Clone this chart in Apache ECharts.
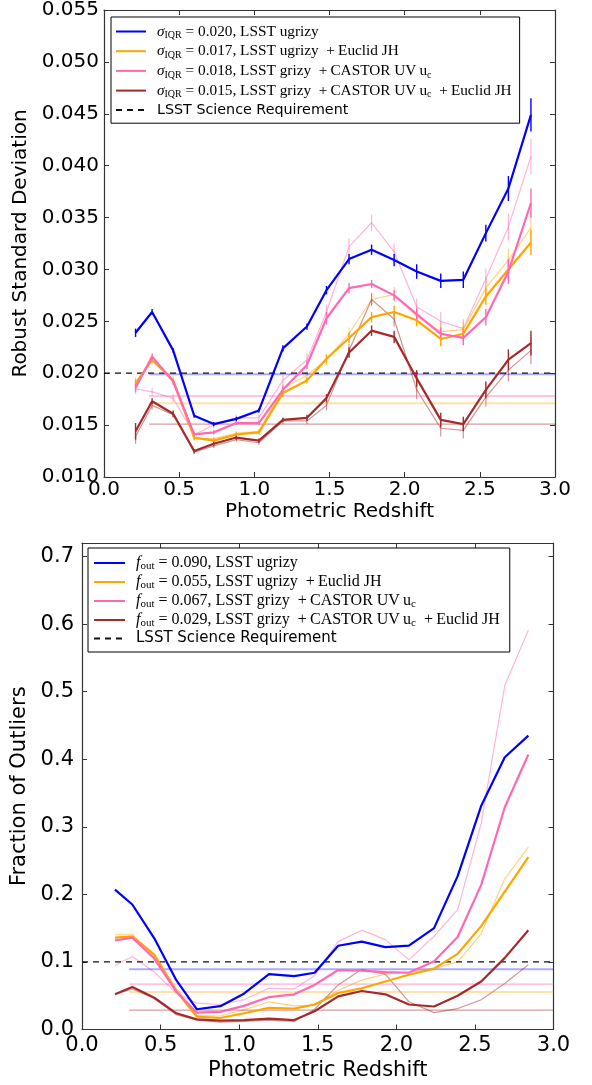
<!DOCTYPE html>
<html>
<head>
<meta charset="utf-8">
<script src="https://cdn.jsdelivr.net/npm/echarts@6/dist/echarts.min.js"></script>
<style>
html,body{margin:0;padding:0;background:#fff;}
#c{width:592px;height:1085px;}
</style>
</head>
<body>
<div id="c"></div>
<script>
// ---------------- DATA ----------------
const zBins = [0.21,0.32,0.46,0.60,0.73,0.88,1.03,1.19,1.35,1.48,1.63,1.78,1.93,2.08,2.24,2.39,2.54,2.69,2.84];

// Top panel: robust standard deviation
const sdBlue   = [0.0239,0.0259,0.0222,0.0159,0.0151,0.0156,0.0164,0.0224,0.0245,0.0280,0.0310,0.0319,0.0309,0.0298,0.0289,0.0290,0.0335,0.0378,0.0449];
const sdOrange = [0.0190,0.0213,0.0193,0.0138,0.0135,0.0141,0.0143,0.0181,0.0193,0.0214,0.0234,0.0254,0.0259,0.0251,0.0233,0.0238,0.0274,0.0300,0.0326];
const sdPink   = [0.0186,0.0216,0.0192,0.0141,0.0143,0.0152,0.0152,0.0184,0.0208,0.0253,0.0282,0.0286,0.0275,0.0257,0.0238,0.0234,0.0254,0.0298,0.0364];
const sdBrown  = [0.0144,0.0173,0.0161,0.0125,0.0132,0.0138,0.0135,0.0155,0.0157,0.0176,0.0220,0.0241,0.0235,0.0195,0.0155,0.0151,0.0184,0.0213,0.0229];
const sdPinkThin   = [0.0185,0.0182,0.0176,0.0141,0.0150,0.0157,0.0157,0.0193,0.0213,0.0259,0.0322,0.0345,0.0317,0.0264,0.0250,0.0243,0.0291,0.0341,0.0409];
const sdOrangeThin = [0.0192,0.0212,0.0194,0.0137,0.0137,0.0142,0.0144,0.0185,0.0198,0.0213,0.0238,0.0271,0.0276,0.0255,0.0240,0.0242,0.0282,0.0309,0.0340];
const sdBrownThin  = [0.0139,0.0169,0.0160,0.0124,0.0130,0.0136,0.0133,0.0154,0.0154,0.0169,0.0222,0.0271,0.0252,0.0184,0.0147,0.0145,0.0177,0.0203,0.0222];

const errBlue   = [0.0004,0.0003,0.0002,0.0002,0.0002,0.0002,0.0002,0.0003,0.0003,0.0004,0.0005,0.0005,0.0006,0.0007,0.0007,0.0008,0.0008,0.0012,0.0016];
const errOrange = [0.0004,0.0003,0.0002,0.0002,0.0002,0.0002,0.0002,0.0004,0.0003,0.0004,0.0005,0.0005,0.0006,0.0006,0.0007,0.0007,0.0008,0.0010,0.0012];
const errPink   = [0.0004,0.0003,0.0003,0.0002,0.0002,0.0002,0.0002,0.0004,0.0004,0.0006,0.0005,0.0004,0.0005,0.0006,0.0006,0.0007,0.0008,0.0012,0.0014];
const errBrown  = [0.0008,0.0003,0.0003,0.0002,0.0002,0.0002,0.0002,0.0002,0.0003,0.0004,0.0005,0.0005,0.0006,0.0008,0.0007,0.0007,0.0008,0.0010,0.0012];
const errPinkThin   = [0.0005,0.0004,0.0004,0.0003,0.0003,0.0003,0.0003,0.0005,0.0006,0.0007,0.0008,0.0008,0.0008,0.0008,0.0009,0.0009,0.0010,0.0013,0.0017];
const errOrangeThin = [0.0004,0.0003,0.0003,0.0002,0.0002,0.0002,0.0002,0.0004,0.0004,0.0005,0.0006,0.0006,0.0007,0.0007,0.0008,0.0008,0.0009,0.0011,0.0016];
const errBrownThin  = [0.0007,0.0004,0.0003,0.0002,0.0002,0.0002,0.0002,0.0003,0.0003,0.0005,0.0006,0.0006,0.0007,0.0009,0.0008,0.0008,0.0009,0.0011,0.0013];

const sigmaLevels = [0.0199, 0.0171, 0.0178, 0.0151];   // blue, orange, pink, brown
const sdRequirement = 0.020;

// Bottom panel: fraction of outliers
const foBlue   = [0.207,0.185,0.135,0.073,0.030,0.0345,0.053,0.082,0.079,0.084,0.124,0.130,0.122,0.124,0.150,0.227,0.331,0.403,0.435];
const foOrange = [0.136,0.138,0.111,0.057,0.019,0.017,0.024,0.032,0.031,0.037,0.054,0.061,0.071,0.081,0.090,0.112,0.153,0.204,0.255];
const foPink   = [0.132,0.136,0.105,0.056,0.025,0.026,0.035,0.048,0.052,0.066,0.088,0.087,0.085,0.084,0.101,0.137,0.214,0.329,0.407];
const foBrown  = [0.052,0.063,0.047,0.024,0.015,0.013,0.014,0.016,0.014,0.027,0.049,0.057,0.052,0.037,0.034,0.050,0.071,0.106,0.147];
const foPinkThin   = [0.095,0.108,0.085,0.054,0.039,0.037,0.044,0.061,0.060,0.080,0.130,0.147,0.133,0.103,0.138,0.177,0.305,0.509,0.591];
const foOrangeThin = [0.141,0.141,0.107,0.061,0.021,0.020,0.029,0.041,0.035,0.036,0.058,0.073,0.082,0.085,0.090,0.100,0.142,0.223,0.270];
const foBrownThin  = [0.052,0.060,0.046,0.022,0.014,0.011,0.012,0.014,0.012,0.030,0.066,0.089,0.082,0.041,0.025,0.031,0.044,0.068,0.096];

const foutLevels = [0.089, 0.0556, 0.067, 0.0286];     // blue, orange, pink, brown
const foRequirement = 0.10;

const levelStart = 0.3, xMin = 0, xMax = 3;

const topLabels = [
  '{it|σ}{sub|IQR}{rm| = 0.020, LSST ugrizy}',
  '{it|σ}{sub|IQR}{rm| = 0.017, LSST ugrizy  +\u2009Euclid JH}',
  '{it|σ}{sub|IQR}{rm| = 0.018, LSST grizy  +\u2009CASTOR UV\u2009u}{sub|c}',
  '{it|σ}{sub|IQR}{rm| = 0.015, LSST grizy  +\u2009CASTOR UV\u2009u}{sub|c}{rm|  +\u2009Euclid JH}',
  '{sans|LSST Science Requirement}'
];
const botLabels = [
  '{it|f}{sub|out}{rm| = 0.090, LSST ugrizy}',
  '{it|f}{sub|out}{rm| = 0.055, LSST ugrizy  +\u2009Euclid JH}',
  '{it|f}{sub|out}{rm| = 0.067, LSST grizy  +\u2009CASTOR UV\u2009u}{sub|c}',
  '{it|f}{sub|out}{rm| = 0.029, LSST grizy  +\u2009CASTOR UV\u2009u}{sub|c}{rm|  +\u2009Euclid JH}',
  '{sans|LSST Science Requirement}'
];

// ---------------- STYLE ----------------
const C = {
  blue: '#0000ff', orange: '#ffa500', pink: '#ff69b4', brown: '#a52a2a'
};
const CT = {
  blue: 'rgba(0,0,255,0.5)', orange: 'rgba(255,165,0,0.5)', pink: 'rgba(255,105,180,0.5)', brown: 'rgba(165,42,42,0.5)'
};
const CH = {
  blue: 'rgba(0,0,255,0.33)', orange: 'rgba(255,165,0,0.33)', pink: 'rgba(255,105,180,0.38)', brown: 'rgba(165,42,42,0.45)'
};
const colorKeys = ['blue','orange','pink','brown'];

function pairs(x, y) { return x.map((v, i) => [v, y[i]]); }

function lineS(name, xi, yi, data, color, width, z) {
  return {
    name: name, type: 'line', xAxisIndex: xi, yAxisIndex: yi,
    data: data, symbol: 'none', showSymbol: false, silent: true, z: z,
    lineStyle: { color: color, width: width }, itemStyle: { color: color },
    emphasis: { disabled: true }
  };
}

function errS(xi, yi, x, y, e, color, width, z) {
  return {
    type: 'custom', xAxisIndex: xi, yAxisIndex: yi, silent: true, z: z,
    data: x.map((v, i) => [v, y[i], e[i]]),
    encode: { x: 0, y: 1 },
    renderItem: function (params, api) {
      const xv = api.value(0), yv = api.value(1), ev = api.value(2);
      const p1 = api.coord([xv, yv - ev]);
      const p2 = api.coord([xv, yv + ev]);
      return { type: 'line', shape: { x1: p1[0], y1: p1[1], x2: p2[0], y2: p2[1] },
               style: { stroke: color, lineWidth: width } };
    }
  };
}

const series = [];
// ---- top panel ----
const sdThin = [null, sdOrangeThin, sdPinkThin, sdBrownThin];
const sdThinErr = [null, errOrangeThin, errPinkThin, errBrownThin];
const sdThick = [sdBlue, sdOrange, sdPink, sdBrown];
const sdThickErr = [errBlue, errOrange, errPink, errBrown];
[2, 1, 3].forEach(k => {
  const col = colorKeys[k];
  series.push(lineS('t_thin_' + k, 0, 0, pairs(zBins, sdThin[k]), CT[col], 1.2, 2));
  series.push(errS(0, 0, zBins, sdThin[k], sdThinErr[k], CT[col], 1.2, 2));
});
[0, 2, 1, 3].forEach(k => {
  const col = colorKeys[k];
  series.push(lineS('t_lvl_' + k, 0, 0, [[levelStart, sigmaLevels[k]], [xMax, sigmaLevels[k]]], CH[col], k === 3 ? 1.3 : 2, 3));
});
series.push({
  name: 't_req', type: 'line', xAxisIndex: 0, yAxisIndex: 0, symbol: 'none', silent: true, z: 4,
  data: [[xMin, sdRequirement], [xMax, sdRequirement]],
  lineStyle: { color: '#111', width: 1.3, type: [6, 5] }, itemStyle: { color: '#111' }
});
[0, 1, 2, 3].forEach(k => {
  const col = colorKeys[k];
  series.push(lineS('t_' + k, 0, 0, pairs(zBins, sdThick[k]), C[col], 2.2, 5));
  series.push(errS(0, 0, zBins, sdThick[k], sdThickErr[k], C[col], 1.4, 5));
});

// ---- bottom panel ----
const foThin = [null, foOrangeThin, foPinkThin, foBrownThin];
const foThick = [foBlue, foOrange, foPink, foBrown];
[2, 1, 3].forEach(k => {
  const col = colorKeys[k];
  series.push(lineS('b_thin_' + k, 2, 2, pairs(zBins, foThin[k]), CT[col], 1.2, 2));
});
[0, 2, 1, 3].forEach(k => {
  const col = colorKeys[k];
  series.push(lineS('b_lvl_' + k, 2, 2, [[levelStart, foutLevels[k]], [xMax, foutLevels[k]]], CH[col], k === 3 ? 1.3 : 2, 3));
});
series.push({
  name: 'b_req', type: 'line', xAxisIndex: 2, yAxisIndex: 2, symbol: 'none', silent: true, z: 4,
  data: [[xMin, foRequirement], [xMax, foRequirement]],
  lineStyle: { color: '#111', width: 1.3, type: [6, 5] }, itemStyle: { color: '#111' }
});
[0, 1, 2, 3].forEach(k => {
  const col = colorKeys[k];
  series.push(lineS('b_' + k, 2, 2, pairs(zBins, foThick[k]), C[col], 2.2, 5));
});

// ---------------- AXES ----------------
const axisCol = '#333';
const FONT = 'DejaVu Sans';
function xAx(grid, pos, showLabel, margin, name, nameGap, fs) {
  return {
    type: 'value', gridIndex: grid, position: pos, min: xMin, max: xMax, interval: 0.5,
    axisLine: { show: true, onZero: false, lineStyle: { color: axisCol, width: 1.2 } },
    axisTick: { show: true, inside: true, length: 5, lineStyle: { color: axisCol } },
    splitLine: { show: false },
    axisLabel: { show: showLabel, margin: margin, color: '#000', fontFamily: FONT, fontSize: fs,
                 formatter: v => v.toFixed(1) },
    name: showLabel ? name : '', nameLocation: 'middle', nameGap: nameGap,
    nameTextStyle: { color: '#000', fontFamily: FONT, fontSize: fs }
  };
}
function yAx(grid, pos, showLabel, min, max, interval, fmt, margin, name, nameGap, fs) {
  return {
    type: 'value', gridIndex: grid, position: pos, min: min, max: max, interval: interval,
    axisLine: { show: true, onZero: false, lineStyle: { color: axisCol, width: 1.2 } },
    axisTick: { show: true, inside: true, length: 5, lineStyle: { color: axisCol } },
    splitLine: { show: false },
    axisLabel: { show: showLabel, margin: margin, color: '#000', fontFamily: FONT, fontSize: fs, formatter: fmt },
    name: showLabel ? name : '', nameLocation: 'middle', nameGap: nameGap, nameRotate: 90,
    nameTextStyle: { color: '#000', fontFamily: FONT, fontSize: fs }
  };
}
const fmtTop = v => v.toFixed(3);
const fmtBot = v => (Math.abs(v * 10 - Math.round(v * 10)) < 1e-6 ? v.toFixed(1) : '');

// ---------------- LEGENDS ----------------
function richFor(fs, lh) {
  return {
    it:   { fontFamily: 'Liberation Serif', fontStyle: 'italic', fontSize: fs, color: '#000', lineHeight: lh, verticalAlign: 'middle' },
    rm:   { fontFamily: 'Liberation Serif', fontSize: fs, color: '#000', lineHeight: lh, verticalAlign: 'middle' },
    sub:  { fontFamily: 'Liberation Serif', fontSize: Math.round(fs * 0.68), color: '#000', lineHeight: lh, verticalAlign: 'bottom' },
    sans: { fontFamily: FONT, fontSize: fs - 1, color: '#000', lineHeight: lh, verticalAlign: 'middle' }
  };
}
const topNames = ['t_0', 't_1', 't_2', 't_3', 't_req'];
const botNames = ['b_0', 'b_1', 'b_2', 'b_3', 'b_req'];

const option = {
  animation: false,
  backgroundColor: '#fff',
  grid: [
    { left: 104, top: 10, width: 451, height: 467, containLabel: false },
    { left: 82, top: 543, width: 471.5, height: 486.5, containLabel: false }
  ],
  xAxis: [
    xAx(0, 'bottom', true, 3, 'Photometric Redshift', 25, 20),
    xAx(0, 'top', false, 3, '', 0, 20),
    xAx(1, 'bottom', true, 6, 'Photometric Redshift', 31, 21),
    xAx(1, 'top', false, 6, '', 0, 21)
  ],
  yAxis: [
    yAx(0, 'left', true, 0.010, 0.055, 0.005, fmtTop, 5, 'Robust Standard Deviation', 67, 20),
    yAx(0, 'right', false, 0.010, 0.055, 0.005, fmtTop, 5, '', 0, 20),
    yAx(1, 'left', true, 0, 0.72, 0.1, fmtBot, 8, 'Fraction of Outliers', 45, 21),
    yAx(1, 'right', false, 0, 0.72, 0.1, fmtBot, 8, '', 0, 21)
  ],
  legend: [
    {
      data: topNames, orient: 'vertical', left: 111, top: 17,
      itemWidth: 30, itemHeight: 18, itemGap: 3.2, padding: [7, 8, 6, 4],
      borderColor: '#000', borderWidth: 1, backgroundColor: '#fff',
      selectedMode: false,
      itemStyle: { opacity: 0, borderWidth: 0 },
      textStyle: { fontSize: 15.3, color: '#000', padding: [0, 0, 0, 6], rich: richFor(15.3, 18) },
      formatter: n => topLabels[topNames.indexOf(n)]
    },
    {
      data: botNames, orient: 'vertical', left: 88, top: 548,
      itemWidth: 31, itemHeight: 18, itemGap: 2.0, padding: [7, 10, 6, 5],
      borderColor: '#000', borderWidth: 1, backgroundColor: '#fff',
      selectedMode: false,
      itemStyle: { opacity: 0, borderWidth: 0 },
      textStyle: { fontSize: 16, color: '#000', padding: [0, 0, 0, 6], rich: richFor(16, 18) },
      formatter: n => botLabels[botNames.indexOf(n)]
    }
  ],
  series: series
};

const chart = echarts.init(document.getElementById('c'), null, { renderer: 'canvas' });
chart.setOption(option);
</script>
</body>
</html>
